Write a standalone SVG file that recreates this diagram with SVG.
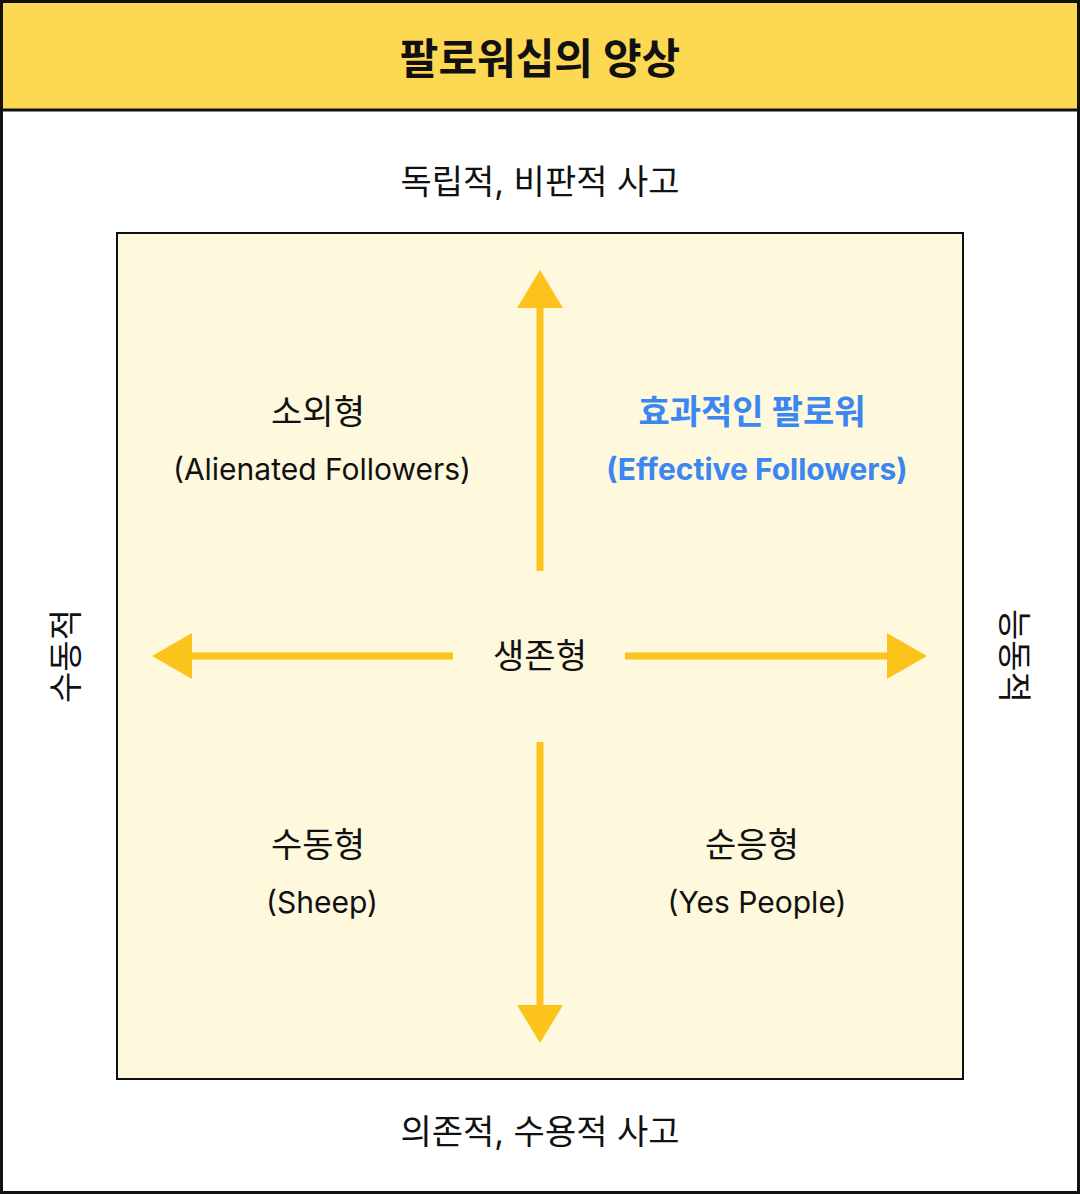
<svg xmlns="http://www.w3.org/2000/svg" width="1080" height="1194" viewBox="0 0 1080 1194">
<style>
text{font-family:Inter,"Noto Sans","Noto Sans CJK KR",sans-serif;fill:#111;text-anchor:middle}
.k{font-size:34px}
.e{font-size:30px}
.b{fill:#3B86F0;font-weight:bold}
.ar{stroke:#FBC31B;stroke-width:7;fill:none}
.hd{fill:#FBC31B}
</style>
<rect x="0" y="0" width="1080" height="1194" fill="#fff"/>
<rect x="0" y="0" width="1080" height="110" fill="#FDD853"/>
<line x1="0" y1="110" x2="1080" y2="110" stroke="#111" stroke-width="3"/>
<rect x="1.5" y="1.5" width="1077" height="1191" fill="none" stroke="#111" stroke-width="3"/>
<text x="540" y="74" style="font-size:42px;font-weight:bold">팔로워십의 양상</text>
<rect x="117" y="233" width="846" height="846" fill="#FEF8DC" stroke="#111" stroke-width="2"/>
<g id="connectors">
<line class="ar" x1="540" y1="571" x2="540" y2="305"/><polygon class="hd" points="540,270 563,308 517,308"/>
<line class="ar" x1="540" y1="742" x2="540" y2="1008"/><polygon class="hd" points="540,1043 563,1005 517,1005"/>
<line class="ar" x1="453" y1="656" x2="188" y2="656"/><polygon class="hd" points="152,656 192,633 192,679"/>
<line class="ar" x1="625" y1="656" x2="890" y2="656"/><polygon class="hd" points="927,656 887,633 887,679"/>
</g>
<g id="top"><text class="k" x="540" y="194">독립적, 비판적 사고</text></g>
<g id="bottom"><text class="k" x="540" y="1144">의존적, 수용적 사고</text></g>
<g id="left"><text class="k" transform="translate(66,656) rotate(-90)" y="12">수동적</text></g>
<g id="right"><text class="k" transform="translate(1014,656) rotate(90)" y="12">능동적</text></g>
<g id="alienated"><text class="k" x="318" y="424">소외형</text><text class="e" x="322" y="480">(Alienated Followers)</text></g>
<g id="effective"><text class="k b" x="752" y="424">효과적인 팔로워</text><text class="e b" x="757" y="480">(Effective Followers)</text></g>
<g id="survival"><text class="k" x="540" y="668">생존형</text></g>
<g id="sheep"><text class="k" x="318" y="857">수동형</text><text class="e" x="322" y="913">(Sheep)</text></g>
<g id="yes"><text class="k" x="752" y="857">순응형</text><text class="e" x="757" y="913">(Yes People)</text></g>
</svg>
